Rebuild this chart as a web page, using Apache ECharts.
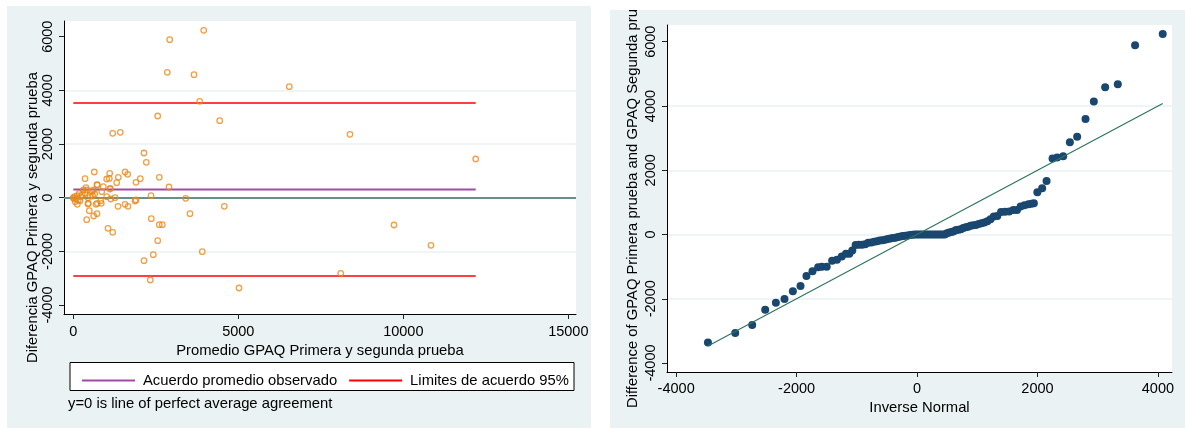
<!DOCTYPE html>
<html>
<head>
<meta charset="utf-8">
<script src="https://cdn.jsdelivr.net/npm/echarts@6/dist/echarts.min.js"></script>
<style>
html,body{margin:0;padding:0;background:#fff;}
#container{width:1185px;height:428px;}
</style>
</head>
<body>
<div id="container"></div>
<script>
// Bland-Altman: promedio (x) vs diferencia (y)
var baPoints = [
	[3952,6239],[2921,5889],[2848,4674],[3658,4584],[6545,4137],[3830,3593],[2558,3045],[4436,2870],
	[1424,2437],[1194,2400],[8385,2363],[2142,1666],[12194,1442],[2212,1319],[636,958],[1567,958],
	[1103,909],[1648,872],[2606,760],[1364,760],[355,708],[1012,697],[2030,708],[1091,720],
	[1900,574],[1315,559],[718,485],[2900,399],[385,373],[1121,350],[2355,75],[3406,-22],
	[4576,-321],[406,-820],[718,-596],[618,-682],[485,-485],[1052,-1141],[1194,-1290],[2364,-783],
	[2606,-1006],[2697,-1006],[2558,-1603],[2142,-2348],[2424,-2124],[2333,-3067],[3909,-2013],[3536,-596],
	[5021,-3366],[9718,-1018],[10839,-1774],[8103,-2818],[1355,-321],[1567,-246],[1658,-321],[1870,-123],
	[1900,-86],[1264,0],[1133,-48],[848,-209],[688,-246],[445,-235],[121,-246],
	[0,0],[42,37],[15,-30],[82,-48],[121,75],[152,-86],[182,164],[224,37],[264,101],[355,164],
	[406,287],[445,0],[506,75],[588,63],[648,138],[727,473],[558,224],[909,410],[1112,324],
	[727,-209],[455,-209],[830,-112],[203,-112],[303,287],[606,287],[861,224],[1012,37],[60,-150]
];
var meanDiff = 305;
var upperLimit = 3530;
var lowerLimit = -2920;
var baXTicks = [0,5000,10000,15000];
var baYTicks = [-4000,-2000,0,2000,4000,6000];

// qnorm: inverse normal (x) vs diferencia ordenada (y)
var qnormPoints = [
	[-3472,-3358],[-3019,-3066],[-2737,-2818],[-2521,-2340],[-2344,-2124],[-2201,-2005],[-2062,-1765],[-1935,-1603],
	[-1836,-1288],[-1736,-1140],[-1642,-1020],[-1580,-1006],[-1500,-1006],[-1410,-820],[-1330,-785],[-1250,-682],
	[-1180,-598],[-1125,-596],[-1075,-497],[-1020,-330],[-965,-321],[-912,-321],[-860,-300],
	[-810,-255],[-760,-246],[-712,-222],[-665,-210],[-620,-190],[-575,-175],[-530,-160],[-486,-143],
	[-443,-125],[-400,-112],[-358,-98],[-316,-80],[-275,-62],[-234,-50],[-194,-38],[-154,-30],[-114,-18],[-75,-8],[-36,-3],
	[3,0],[41,0],[79,0],[117,0],[155,0],[193,0],[231,0],[269,0],[307,0],[345,0],[383,0],[421,0],[459,0],
	[497,40],[535,63],[573,75],[611,101],[650,138],[689,150],[728,164],[768,200],[808,224],[849,240],
	[891,270],[934,287],[978,300],[1023,324],[1070,350],[1118,373],[1168,410],[1220,473],[1275,559],[1333,574],
	[1395,697],[1460,708],[1530,720],[1600,760],[1660,760],[1720,872],[1785,909],[1850,944],[1900,958],[1940,975],
	[1998,1319],[2078,1442],[2151,1666],[2250,2363],[2327,2400],[2427,2437],[2538,2870],[2659,3045],
	[2798,3593],[2936,4137],[3124,4584],[3334,4674],[3621,5889],[4080,6239]
];
var qnormLine = [[-3472,-3472],[4080,4080]];
var qXTicks = [-4000,-2000,0,2000,4000];
var qYTicks = [-4000,-2000,0,2000,4000,6000];

var FONT = "'Liberation Sans', Arial, sans-serif";
var panelBg = '#eaf2f3';

var xs = baPoints.map(function(p){ return p[0]; });
var minX = Math.min.apply(null, xs);
var maxX = Math.max.apply(null, xs);

function plain(v){ return String(v); }

function valueAxis(gridIndex, min, max, split, ticks, rotate, margin){
	return {
		type: 'value', gridIndex: gridIndex, min: min, max: max, splitNumber: split,
		axisLine: { show: true, onZero: false, lineStyle: { color: '#000', width: 1 } },
		axisTick: { show: true, length: 5, customValues: ticks, lineStyle: { color: '#222' } },
		axisLabel: { customValues: ticks, formatter: plain, rotate: rotate, margin: margin,
			fontSize: 14.5, color: '#000', fontFamily: FONT },
		splitLine: { show: false }
	};
}

var xLeft = valueAxis(0, -282, 15233, 3, baXTicks, 0, 10);
xLeft.name = 'Promedio GPAQ Primera y segunda prueba';
xLeft.nameLocation = 'middle';
xLeft.nameGap = 26;
xLeft.nameTextStyle = { fontSize: 14.8, color: '#000', fontFamily: FONT };

var yLeft = valueAxis(0, -4335, 6586, 5, baYTicks, 90, 9);
yLeft.splitLine = { show: true, showMinLine: false, showMaxLine: false, lineStyle: { color: panelBg, width: 1.5 } };

var xRight = valueAxis(1, -4152, 4234, 4, qXTicks, 0, 9);
xRight.name = 'Inverse Normal';
xRight.nameLocation = 'middle';
xRight.nameGap = 24;
xRight.nameTextStyle = { fontSize: 14.8, color: '#000', fontFamily: FONT };

var yRight = valueAxis(1, -4279, 6521, 5, qYTicks, 90, 9);
yRight.splitLine = { show: true, showMinLine: false, showMaxLine: false, lineStyle: { color: panelBg, width: 1.5 } };

var myChart = echarts.init(document.getElementById('container'));
var option = {
	animation: false,
	backgroundColor: '#fff',
	textStyle: { fontFamily: FONT },
	grid: [
		{ left: 64, top: 21, width: 512, height: 293, show: true, backgroundColor: '#fff', borderWidth: 0 },
		{ left: 667, top: 25, width: 505, height: 347, show: true, backgroundColor: '#fff', borderWidth: 0 }
	],
	xAxis: [xLeft, xRight],
	yAxis: [yLeft, yRight],
	legend: {
		data: ['Acuerdo promedio observado', 'Limites de acuerdo 95%'],
		icon: 'rect',
		left: 77, top: 368, itemWidth: 53, itemHeight: 2, itemGap: 12,
		textStyle: { fontSize: 14.8, color: '#000', fontFamily: FONT, padding: [0,0,0,3] }
	},
	graphic: [
		{ type: 'rect', z: -10, shape: { x: 7, y: 6, width: 584, height: 422 }, style: { fill: panelBg } },
		{ type: 'rect', z: -10, shape: { x: 610, y: 10, width: 575, height: 418 }, style: { fill: panelBg } },
		{ type: 'rect', z: 0, shape: { x: 70, y: 362.5, width: 504, height: 28 }, style: { fill: '#fff', stroke: '#000', lineWidth: 1 } },
		{ type: 'text', x: 33, y: 363, rotation: Math.PI / 2,
			style: { text: 'Diferencia GPAQ Primera y segunda prueba', fill: '#000', font: '14.8px ' + FONT, align: 'left', verticalAlign: 'middle' } },
		{ type: 'text', x: 633, y: 408, rotation: Math.PI / 2,
			style: { text: 'Difference of GPAQ Primera prueba and GPAQ Segunda prueba', fill: '#000', font: '14.8px ' + FONT, align: 'left', verticalAlign: 'middle' } },
		{ type: 'rect', z: 100, shape: { x: 600, y: 0, width: 585, height: 10 }, style: { fill: '#fff' } },
		{ type: 'text', x: 68, y: 404,
			style: { text: 'y=0 is line of perfect average agreement', fill: '#000', font: '14.8px ' + FONT, align: 'left', verticalAlign: 'middle' } }
	],
	series: [
		{
			name: 'Acuerdo promedio observado', type: 'line', xAxisIndex: 0, yAxisIndex: 0,
			data: [[minX, meanDiff], [maxX, meanDiff]], symbol: 'none', z: 2,
			lineStyle: { color: '#a24ba6', width: 2.2 }, itemStyle: { color: '#a24ba6' },
			markLine: {
				silent: true, symbol: ['none', 'none'], label: { show: false },
				lineStyle: { color: '#6a8f8a', width: 2, type: 'solid' },
				data: [{ yAxis: 0 }]
			}
		},
		{
			name: 'Limites de acuerdo 95%', type: 'line', xAxisIndex: 0, yAxisIndex: 0,
			data: [[minX, upperLimit], [maxX, upperLimit]], symbol: 'none', z: 2,
			lineStyle: { color: '#ff0000', width: 1.6 }, itemStyle: { color: '#ff0000' }
		},
		{
			name: 'Limites de acuerdo 95%', type: 'line', xAxisIndex: 0, yAxisIndex: 0,
			data: [[minX, lowerLimit], [maxX, lowerLimit]], symbol: 'none', z: 2,
			lineStyle: { color: '#ff0000', width: 1.6 }, itemStyle: { color: '#ff0000' }
		},
		{
			name: 'Diferencia', type: 'scatter', xAxisIndex: 0, yAxisIndex: 0,
			data: baPoints, symbol: 'circle', symbolSize: 5.5, z: 5,
			itemStyle: { color: 'rgba(0,0,0,0)', borderColor: '#e8891c', borderWidth: 1.3 }
		},
		{
			name: 'qnorm', type: 'scatter', xAxisIndex: 1, yAxisIndex: 1,
			data: qnormPoints, symbol: 'circle', symbolSize: 8, z: 3,
			itemStyle: { color: '#1a476f', opacity: 1 }
		},
		{
			name: 'Normal', type: 'line', xAxisIndex: 1, yAxisIndex: 1,
			data: qnormLine, symbol: 'none', z: 4,
			lineStyle: { color: '#2e7462', width: 1.2 }
		}
	]
};
myChart.setOption(option);
</script>
</body>
</html>
